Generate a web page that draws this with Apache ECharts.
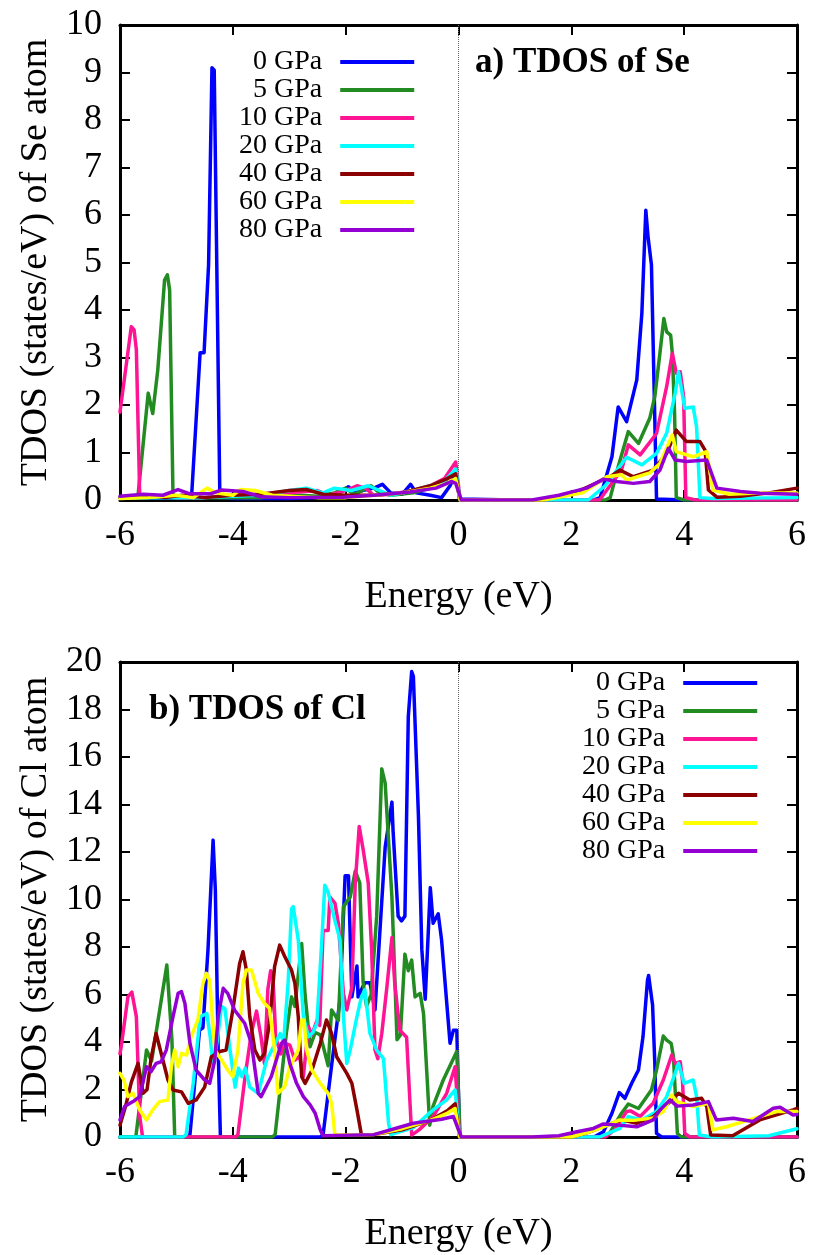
<!DOCTYPE html>
<html>
<head>
<meta charset="utf-8">
<title>TDOS of Se and Cl under pressure</title>
<script src="https://cdn.jsdelivr.net/npm/echarts@6/dist/echarts.min.js"></script>
<style>
  html, body { margin: 0; padding: 0; background: #ffffff; }
  #chart { width: 814px; height: 1255px; }
</style>
</head>
<body>
<div id="chart"></div>
<script>
// Pressure labels and line colours (one per curve)
const pressures = ['0 GPa', '5 GPa', '10 GPa', '20 GPa', '40 GPa', '60 GPa', '80 GPa'];
const lineColors = ['#0000ff', '#228b22', '#ff1493', '#00ffff', '#8b0000', '#ffff00', '#9400d3'];

// Panel titles and axis titles
const panelTitles = ['a) TDOS of Se', 'b) TDOS of Cl'];
const yTitles = ['TDOS (states/eV) of Se atom', 'TDOS (states/eV) of Cl atom'];
const xTitle = 'Energy (eV)';
const yMax = [10, 20];
const yStep = [1, 2];

// ---- Se atom TDOS, [energy (eV), states/eV] ----
const se0 = [[-6,0.05],[-5.5,0.05],[-5,0.05],[-4.8,0.05],[-4.73,0.1],[-4.58,3.1],[-4.51,3.1],[-4.43,4.95],[-4.37,9.1],[-4.33,9.05],[-4.23,0.05],[-4,0.03],[-3,0.03],[-2.5,0.05],[-2.2,0.1],[-2.05,0.2],[-1.95,0.28],[-1.85,0.15],[-1.7,0.2],[-1.5,0.25],[-1.35,0.33],[-1.2,0.15],[-1.0,0.12],[-0.85,0.33],[-0.75,0.15],[-0.5,0.1],[-0.3,0.05],[-0.15,0.3],[-0.05,0.55],[0.02,0.02],[1,0],[2.4,0],[2.51,0.05],[2.72,0.91],[2.83,1.96],[2.98,1.65],[3.16,2.53],[3.25,3.93],[3.32,6.1],[3.36,5.54],[3.42,4.95],[3.51,0.02],[4,0],[6,0]];
const se5 = [[-6,0.05],[-5.7,0.05],[-5.68,0.1],[-5.5,2.25],[-5.42,1.82],[-5.33,2.74],[-5.21,4.63],[-5.16,4.74],[-5.12,4.42],[-5.06,0.05],[-4.5,0.05],[-3.5,0.05],[-2.8,0.1],[-2.5,0.08],[-2.2,0.15],[-2.0,0.25],[-1.85,0.12],[-1.7,0.2],[-1.55,0.3],[-1.4,0.15],[-1.2,0.1],[-0.8,0.15],[-0.5,0.25],[-0.3,0.35],[-0.1,0.55],[-0.05,0.65],[0.02,0],[2.6,0],[2.69,0.05],[2.83,0.7],[3.01,1.44],[3.19,1.19],[3.39,1.72],[3.48,2.18],[3.57,3.09],[3.64,3.82],[3.69,3.54],[3.76,3.47],[3.79,3.09],[3.83,1.83],[3.86,0.05],[4,0],[6,0]];
const se10 = [[-6,1.85],[-5.8,3.65],[-5.75,3.58],[-5.71,3.16],[-5.65,0.07],[-5.5,0.08],[-5,0.05],[-4.5,0.05],[-4,0.1],[-3.5,0.12],[-3,0.15],[-2.5,0.2],[-2.3,0.1],[-2.0,0.2],[-1.8,0.3],[-1.65,0.25],[-1.5,0.1],[-1.2,0.12],[-0.8,0.2],[-0.5,0.3],[-0.25,0.45],[-0.05,0.8],[0.03,0],[2.5,0],[2.89,0.63],[3.01,1.16],[3.22,0.95],[3.51,1.4],[3.69,2.39],[3.79,3.09],[3.86,2.67],[3.93,2.7],[3.99,2.18],[4.03,0.05],[4.2,0],[6,0]];
const se20 = [[-6,0.05],[-4.5,0.05],[-4.0,0.08],[-3.5,0.1],[-3.0,0.2],[-2.7,0.25],[-2.4,0.15],[-2.2,0.25],[-1.9,0.2],[-1.6,0.3],[-1.4,0.2],[-1.2,0.1],[-0.8,0.2],[-0.5,0.3],[-0.25,0.4],[-0.05,0.65],[0.03,0],[2.3,0],[2.6,0.3],[2.98,0.9],[3.25,0.74],[3.51,0.98],[3.69,1.41],[3.84,2.25],[3.9,2.7],[4.01,1.93],[4.16,1.96],[4.22,1.54],[4.28,0.05],[4.5,0.03],[6,0.05]];
const se40 = [[-6,0.05],[-5.5,0.1],[-5.2,0.05],[-4.9,0.1],[-4.5,0.05],[-4,0.1],[-3.5,0.12],[-3,0.2],[-2.7,0.22],[-2.4,0.12],[-2,0.1],[-1.5,0.1],[-1,0.15],[-0.5,0.3],[-0.2,0.45],[-0.05,0.55],[0.03,0],[1.5,0],[2.1,0.17],[2.69,0.49],[2.86,0.63],[3.1,0.49],[3.45,0.63],[3.69,0.98],[3.86,1.47],[4.04,1.23],[4.28,1.23],[4.37,1.05],[4.43,0.21],[4.58,0.06],[5,0.08],[5.5,0.15],[6,0.25]];
const se60 = [[-6,0.03],[-5.5,0.05],[-5,0.1],[-4.7,0.05],[-4.46,0.25],[-4.3,0.15],[-4,0.1],[-3.87,0.22],[-3.6,0.2],[-3.3,0.1],[-3,0.08],[-2.5,0.05],[-2,0.05],[-1.5,0.1],[-1,0.15],[-0.5,0.25],[-0.2,0.35],[-0.05,0.45],[0.03,0],[1.5,0],[2.2,0.15],[2.63,0.49],[2.89,0.53],[2.98,0.42],[3.39,0.57],[3.57,0.77],[3.79,1.37],[3.86,1.02],[4.16,0.91],[4.4,1.02],[4.51,0.21],[4.8,0.12],[5.4,0.15],[6,0.15]];
const se80 = [[-6,0.08],[-5.59,0.12],[-5.24,0.1],[-4.97,0.22],[-4.76,0.13],[-4.4,0.13],[-4.2,0.21],[-3.82,0.18],[-3.52,0.07],[-3,0.05],[-2.05,0.06],[-1.5,0.1],[-0.86,0.17],[-0.4,0.25],[-0.12,0.39],[-0.05,0.35],[0.05,0],[1.3,0],[1.78,0.1],[2.27,0.25],[2.57,0.44],[2.8,0.39],[3.1,0.35],[3.39,0.39],[3.57,0.63],[3.72,1.09],[3.84,0.84],[4.04,0.81],[4.4,0.84],[4.58,0.25],[5,0.18],[5.34,0.14],[6,0.12]];

// ---- Cl atom TDOS, [energy (eV), states/eV] ----
const cl0 = [[-6,0],[-4.8,0],[-4.76,0.1],[-4.59,4.5],[-4.53,4.6],[-4.44,7.9],[-4.35,12.5],[-4.31,10.4],[-4.26,3.7],[-4.22,0],[-2.45,0],[-2.4,0.1],[-2.25,3],[-2.1,5.8],[-2.01,11],[-1.95,11],[-1.89,5.9],[-1.8,7.2],[-1.78,5.9],[-1.66,6.5],[-1.57,6.5],[-1.48,5.35],[-1.3,12.2],[-1.18,14.1],[-1.16,12.9],[-1.07,9.3],[-1.01,9.1],[-0.95,9.3],[-0.89,17.7],[-0.83,19.6],[-0.8,19.4],[-0.71,13.5],[-0.65,7.9],[-0.59,5.8],[-0.5,10.5],[-0.45,9.0],[-0.36,9.4],[-0.3,8.3],[-0.15,3.95],[-0.09,4.5],[-0.03,4.5],[0.02,0],[2.4,0],[2.57,0.22],[2.72,1.0],[2.85,1.87],[2.95,1.63],[3.07,2.26],[3.19,2.82],[3.27,4.22],[3.35,6.6],[3.37,6.8],[3.44,5.56],[3.48,3.1],[3.51,0.15],[3.6,0],[6,0]];
const cl5 = [[-6,0],[-5.72,0],[-5.53,3.66],[-5.44,3.2],[-5.17,7.24],[-5.08,4.1],[-5.03,0],[-3.3,0],[-3.25,0.1],[-3.05,4.4],[-2.96,5.9],[-2.9,5.5],[-2.78,8.15],[-2.72,6],[-2.63,3.8],[-2.54,4.4],[-2.45,4.3],[-2.31,3.0],[-2.25,5.35],[-2.13,4.9],[-2.04,9.7],[-1.92,10.1],[-1.83,11.2],[-1.75,10.7],[-1.69,6.5],[-1.63,5.5],[-1.55,6],[-1.45,9.3],[-1.36,15.5],[-1.3,14.9],[-1.18,10.1],[-1.09,4.1],[-1.03,4.3],[-0.95,7.7],[-0.89,7.0],[-0.83,7.45],[-0.77,5.9],[-0.68,6.05],[-0.62,5.2],[-0.51,0.5],[-0.45,1.3],[-0.27,2.4],[-0.06,3.45],[-0.03,3.6],[0.03,0],[2.6,0],[2.69,0.2],[2.89,1.0],[3.01,1.39],[3.19,1.2],[3.42,1.98],[3.51,2.82],[3.63,4.25],[3.69,4.08],[3.77,3.94],[3.81,3.38],[3.84,1.98],[3.88,0.15],[3.95,0],[6,0]];
const cl10 = [[-6,3.5],[-5.97,3.95],[-5.86,5.9],[-5.79,6.1],[-5.71,5.07],[-5.65,0.86],[-5.6,0],[-3.95,0],[-3.91,0.1],[-3.78,2.6],[-3.67,4.4],[-3.58,5.3],[-3.5,4.2],[-3.44,3.1],[-3.38,6.2],[-3.33,7.0],[-3.29,6.8],[-3.24,4.2],[-3.15,3.5],[-3.08,3.95],[-2.99,3.87],[-2.9,3.24],[-2.82,3.4],[-2.75,2.54],[-2.66,4.65],[-2.6,4.3],[-2.51,4.9],[-2.46,4.7],[-2.4,8.7],[-2.31,8.7],[-2.28,10.1],[-2.19,9.85],[-2.13,9.0],[-2.04,6.05],[-1.98,5.35],[-1.89,6.3],[-1.83,10.7],[-1.76,13.07],[-1.69,12.1],[-1.6,10.7],[-1.54,7.9],[-1.48,3.66],[-1.43,3.3],[-1.36,4.36],[-1.27,6.3],[-1.18,8.4],[-1.13,6.47],[-1.04,4.5],[-0.92,4.2],[-0.83,0.08],[-0.7,0.3],[-0.45,0.85],[-0.21,1.84],[-0.06,2.96],[0.02,0],[2.6,0],[2.77,0.3],[2.98,1.07],[3.05,1.1],[3.22,0.86],[3.45,1.42],[3.63,2.4],[3.78,3.45],[3.84,3.1],[3.93,3.17],[3.97,2.4],[4.01,0.15],[4.1,0],[6,0]];
const cl20 = [[-6,0],[-4.88,0],[-4.83,0.1],[-4.7,2.3],[-4.58,5.07],[-4.46,5.2],[-4.4,4.2],[-4.35,2.96],[-4.28,4.0],[-4.2,5.5],[-4.14,5.4],[-4.05,3.66],[-3.96,2.1],[-3.9,2.9],[-3.84,2.54],[-3.78,2.9],[-3.7,2.1],[-3.55,1.84],[-3.4,3.24],[-3.3,3.7],[-3.16,4.36],[-3.1,4.0],[-3.02,6.5],[-2.96,9.6],[-2.93,9.7],[-2.84,8.3],[-2.75,5.07],[-2.66,4.22],[-2.58,4.4],[-2.51,4.79],[-2.42,8.4],[-2.37,10.6],[-2.31,10.3],[-2.19,9.1],[-2.1,8.3],[-2.04,5.07],[-1.98,3.1],[-1.92,3.66],[-1.8,5.07],[-1.72,5.9],[-1.66,6.2],[-1.57,4.36],[-1.45,3.66],[-1.33,3.3],[-1.24,0.58],[-1.2,0.1],[-0.8,0.4],[-0.45,1.14],[-0.21,1.56],[-0.06,1.98],[0.02,0],[2.5,0],[2.86,0.36],[3.01,0.86],[3.25,0.72],[3.51,1.07],[3.69,1.7],[3.84,2.68],[3.9,3.1],[4.0,2.26],[4.16,2.4],[4.22,1.7],[4.27,0.08],[4.5,0],[5.5,0.05],[6,0.35]];
const cl40 = [[-6,0.5],[-5.9,1.3],[-5.8,2.3],[-5.68,3.1],[-5.59,1.84],[-5.52,2.0],[-5.45,3.3],[-5.36,4.36],[-5.24,3.24],[-5.15,2.4],[-5.06,1.98],[-4.91,1.9],[-4.79,1.42],[-4.65,1.56],[-4.5,2.1],[-4.38,3.38],[-4.23,3.6],[-4.12,3.66],[-4.0,5.35],[-3.88,7.3],[-3.82,7.8],[-3.76,7.03],[-3.7,5.07],[-3.61,3.66],[-3.52,3.24],[-3.44,3.52],[-3.35,4.79],[-3.26,7.17],[-3.17,8.08],[-3.08,7.6],[-2.96,7.03],[-2.9,6.47],[-2.84,5.07],[-2.78,2.54],[-2.72,2.26],[-2.6,2.8],[-2.45,3.94],[-2.34,4.93],[-2.25,4.36],[-2.16,3.38],[-1.98,2.68],[-1.89,2.26],[-1.8,1.14],[-1.72,0.08],[-1.5,0.1],[-1,0.3],[-0.5,0.7],[-0.2,1.1],[-0.06,1.4],[0.02,0],[2,0],[2.3,0.2],[2.63,0.5],[2.89,0.72],[3.16,0.58],[3.45,0.86],[3.75,1.49],[3.9,1.84],[4.1,1.56],[4.31,1.63],[4.4,1.28],[4.47,0.08],[4.86,0.05],[5.34,0.72],[5.93,1.14],[6,1.2]];
const cl60 = [[-6,2.68],[-5.93,2.4],[-5.86,1.7],[-5.77,1.84],[-5.65,1.14],[-5.53,0.72],[-5.42,1.14],[-5.3,1.49],[-5.15,1.56],[-5.09,2.96],[-5.03,3.66],[-4.97,2.96],[-4.91,3.52],[-4.82,3.45],[-4.74,4.22],[-4.62,4.93],[-4.53,6.47],[-4.47,6.89],[-4.41,6.6],[-4.32,3.66],[-4.2,3.24],[-4.09,2.82],[-4.0,2.54],[-3.91,3.66],[-3.82,6.47],[-3.76,7.03],[-3.67,7.03],[-3.55,6.05],[-3.44,5.63],[-3.35,5.42],[-3.26,3.66],[-3.2,1.84],[-3.08,2.12],[-2.99,2.96],[-2.84,3.66],[-2.78,4.93],[-2.74,4.93],[-2.69,3.66],[-2.6,2.82],[-2.45,2.26],[-2.31,1.84],[-2.25,1.42],[-2.19,0.08],[-1.5,0.1],[-1,0.35],[-0.5,0.7],[-0.2,1.0],[-0.06,1.2],[0.02,0],[2,0],[2.3,0.2],[2.57,0.43],[2.86,0.72],[3.1,0.7],[3.45,0.8],[3.63,1.07],[3.78,1.77],[3.87,1.49],[4.16,1.28],[4.43,1.42],[4.51,0.3],[4.75,0.43],[5.34,0.86],[5.64,1.07],[6,1.07]];
const cl80 = [[-6,0.72],[-5.92,1.28],[-5.77,1.49],[-5.65,1.7],[-5.53,2.96],[-5.45,2.75],[-5.36,3.1],[-5.27,3.17],[-5.18,3.66],[-5.06,5.07],[-4.97,6.05],[-4.91,6.12],[-4.85,5.63],[-4.76,3.94],[-4.65,2.82],[-4.5,2.4],[-4.41,2.26],[-4.32,3.24],[-4.26,5.07],[-4.17,6.26],[-4.09,6.05],[-3.97,5.35],[-3.79,4.79],[-3.67,3.94],[-3.55,1.84],[-3.5,1.7],[-3.32,2.54],[-3.14,3.94],[-3.08,4.08],[-2.99,3.1],[-2.87,2.26],[-2.75,1.7],[-2.63,1.35],[-2.54,1.0],[-2.45,0.3],[-2.4,0.05],[-1.5,0.1],[-0.8,0.58],[-0.3,0.75],[-0.09,0.86],[0.05,0],[1.3,0],[1.78,0.05],[2.1,0.22],[2.39,0.36],[2.57,0.55],[2.83,0.5],[3.16,0.43],[3.45,0.72],[3.57,1.14],[3.75,1.56],[3.87,1.3],[4.16,1.35],[4.43,1.49],[4.57,0.72],[4.87,0.79],[5.22,0.65],[5.58,1.21],[5.7,1.25],[5.93,0.93],[6,0.95]];

const panelData = [
  [se0, se5, se10, se20, se40, se60, se80],
  [cl0, cl5, cl10, cl20, cl40, cl60, cl80]
];

// ---- layout ----
const FONT = 'Liberation Serif';
const grids = [
  { left: 120, top: 25, width: 677, height: 475 },
  { left: 120, top: 662, width: 677, height: 475 }
];
const legendPos = [{ left: 239, top: 48 }, { left: 582, top: 669 }];
const titlePos = [{ left: 475, top: 45 }, { left: 149, top: 692 }];

const frameLine = { show: true, onZero: false, lineStyle: { color: '#000', width: 3 } };
const innerTick = { show: true, inside: true, length: 10, lineStyle: { color: '#000', width: 2 } };

const xAxes = [];
const yAxes = [];
[0, 1].forEach(function (p) {
  xAxes.push({
    type: 'value', gridIndex: p, min: -6, max: 6, interval: 2, position: 'bottom',
    name: xTitle, nameLocation: 'middle', nameGap: 78,
    nameTextStyle: { fontFamily: FONT, fontSize: 38, color: '#000' },
    axisLine: frameLine, axisTick: innerTick, splitLine: { show: false },
    axisLabel: { fontFamily: FONT, fontSize: 36, color: '#000', margin: 18 }
  });
  yAxes.push({
    type: 'value', gridIndex: p, min: 0, max: yMax[p], interval: yStep[p], position: 'left',
    name: yTitles[p], nameLocation: 'middle', nameGap: 62, nameRotate: 90,
    nameTextStyle: { fontFamily: FONT, fontSize: 38, color: '#000' },
    axisLine: frameLine, axisTick: innerTick, splitLine: { show: false },
    axisLabel: { fontFamily: FONT, fontSize: 36, color: '#000', margin: 18 }
  });
});
// mirrored frame edges with inward ticks on top and right
[0, 1].forEach(function (p) {
  xAxes.push({
    type: 'value', gridIndex: p, min: -6, max: 6, interval: 2, position: 'top',
    axisLine: frameLine, axisTick: innerTick, axisLabel: { show: false }, splitLine: { show: false }
  });
  yAxes.push({
    type: 'value', gridIndex: p, min: 0, max: yMax[p], interval: yStep[p], position: 'right',
    axisLine: frameLine, axisTick: innerTick, axisLabel: { show: false }, splitLine: { show: false }
  });
});

const series = [];
[0, 1].forEach(function (p) {
  panelData[p].forEach(function (data, i) {
    const s = {
      type: 'line', name: pressures[i], xAxisIndex: p, yAxisIndex: p,
      data: data, showSymbol: false, symbol: 'none', smooth: false,
      lineStyle: { color: lineColors[i], width: 3.5, join: 'round', cap: 'round' },
      itemStyle: { color: lineColors[i] },
      emphasis: { disabled: true }, z: 2 + i
    };
    if (i === 0) {
      // dotted Fermi level marker at 0 eV
      s.markLine = {
        silent: true, symbol: 'none', label: { show: false },
        lineStyle: { type: 'dotted', color: '#666', width: 1 },
        data: [{ xAxis: 0 }]
      };
    }
    series.push(s);
  });
});

const legends = [0, 1].map(function (p) {
  return {
    orient: 'vertical', left: legendPos[p].left, top: legendPos[p].top,
    align: 'right', padding: 0, itemGap: 0, itemWidth: 74, itemHeight: 4,
    icon: 'rect', selectedMode: false,
    data: pressures,
    formatter: function (name) { return '{t|' + name + '}'; },
    textStyle: {
      fontFamily: FONT, fontSize: 28, color: '#000', lineHeight: 28,
      rich: { t: { fontFamily: FONT, fontSize: 28, color: '#000', lineHeight: 28, padding: [0, 13, 0, 0] } }
    }
  };
});

const titles = [0, 1].map(function (p) {
  return {
    text: panelTitles[p], left: titlePos[p].left, top: titlePos[p].top, padding: 0,
    textStyle: { fontFamily: FONT, fontSize: 35, fontWeight: 'bold', color: '#000' }
  };
});

const chart = echarts.init(document.getElementById('chart'), null, { renderer: 'canvas' });
chart.setOption({
  animation: false,
  backgroundColor: '#ffffff',
  title: titles,
  legend: legends,
  grid: grids,
  xAxis: xAxes,
  yAxis: yAxes,
  series: series
});
</script>
</body>
</html>
